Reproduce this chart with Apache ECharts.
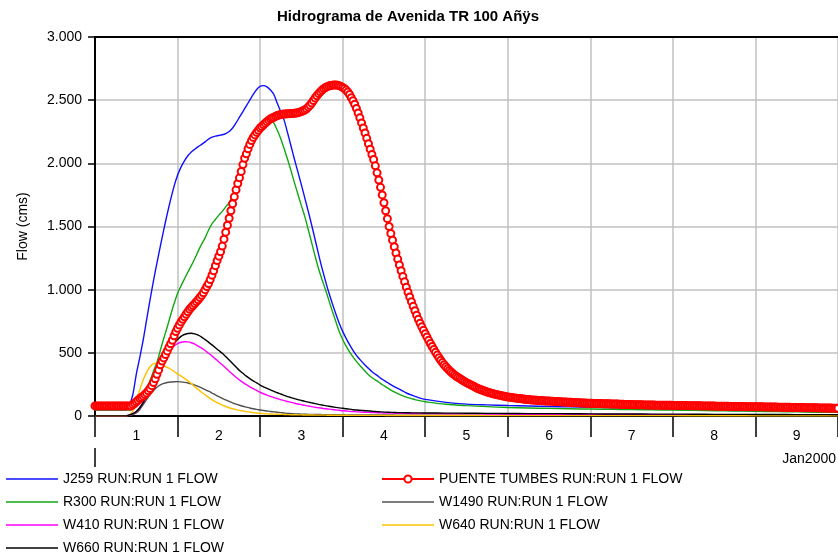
<!DOCTYPE html>
<html>
<head>
<meta charset="utf-8">
<script src="https://cdn.jsdelivr.net/npm/echarts@6/dist/echarts.min.js"></script>
<style>
  html, body { margin: 0; padding: 0; background: #fff; }
  #chart { width: 838px; height: 559px; }
</style>
</head>
<body>
<div id="chart"></div>
<script>
// Day labels along the bottom (January 2000)
const dayLabels = ['1', '2', '3', '4', '5', '6', '7', '8', '9'];
const yMin = 0, yMax = 3000, yStep = 500;

// Sample times (hours from 1 Jan 00:00) shared by the plain-line series:
// hourly through hour 96, then every 6 hours to hour 216.
const lineHours = [];
for (let h = 0; h <= 96; h++) lineHours.push(h);
for (let h = 102; h <= 216; h += 6) lineHours.push(h);

// Flow (cms) per station on lineHours
const j259 = [
  50,50,50,50,50,50,50,50,50,50,
  85,170,330,460,600,760,920,1070,1210,1345,
  1475,1600,1715,1820,1905,1970,2020,2060,2090,2112,
  2132,2150,2170,2192,2208,2215,2220,2226,2236,2252,
  2280,2320,2365,2410,2455,2500,2545,2585,2610,2615,
  2605,2580,2545,2475,2410,2340,2240,2135,2030,1930,
  1830,1725,1620,1510,1395,1280,1170,1070,975,890,
  810,735,670,615,565,520,480,448,418,390,
  365,340,322,300,282,265,248,232,218,205,
  190,176,166,156,146,138,132,
  108,94,88,83,79,75,72,69,65,61,57,53,50,47,44,42,39,37,35,33
];
const r300 = [
  47,47,47,47,47,47,47,47,47,47,
  47,50,75,105,160,215,280,355,425,520,
  615,705,800,890,970,1030,1085,1140,1190,1245,
  1305,1360,1410,1470,1520,1555,1590,1620,1655,1690,
  1745,1810,1880,1960,2045,2130,2200,2265,2310,2345,
  2362,2352,2318,2262,2195,2115,2030,1940,1845,1755,
  1665,1578,1475,1370,1265,1165,1080,1000,915,830,
  748,668,605,553,508,468,432,400,370,340,
  315,295,278,258,240,222,205,190,177,165,
  154,145,138,130,124,118,113,
  93,82,74,67,63,60,57,55,53,51,49,47,45,42,40,37,35,33,30,29
];
const w1490 = [
  1,1,1,1,1,1,1,1,1,1,
  5,12,25,50,90,130,168,200,228,247,
  258,265,269,271,272,270,266,261,254,245,
  234,222,209,196,182,167,153,140,127,115,
  104,94,85,77,70,63,57,52,48,44,
  40,36,33,30,27,24,21,19,17,16,
  15,14,13,13,12,12,11,11,11,10,
  10,10,10,9,9,9,9,9,9,8,
  8,8,8,8,8,8,8,7,7,7,
  7,7,7,7,7,7,7,
  7,6,6,6,6,6,6,5,5,5,5,5,5,5,4,4,4,4,4,4
];
const w410 = [
  1,1,1,1,1,1,1,1,1,1,
  8,18,36,65,105,155,210,280,345,400,
  450,490,525,555,573,584,588,587,580,568,
  553,537,518,497,476,452,428,405,380,355,
  330,307,285,266,248,231,216,202,188,176,
  165,155,146,138,130,122,115,108,101,95,
  90,84,79,74,69,65,61,57,54,51,
  48,45,42,40,37,35,33,32,30,29,
  28,27,26,25,24,24,23,22,22,21,
  21,20,20,20,19,19,19,
  18,17,16,15,14,14,13,13,12,12,11,11,10,10,9,9,9,8,8,8
];
const w640 = [
  1,1,1,1,1,1,1,1,1,1,
  8,40,120,206,285,345,390,414,417,408,
  396,385,370,352,333,316,298,278,256,232,
  210,188,168,148,130,113,99,86,75,65,
  57,50,45,40,35,31,27,24,21,19,
  17,16,15,14,13,12,11,10,10,9,
  9,8,8,8,7,7,7,7,6,6,
  6,6,6,6,5,5,5,5,5,5,
  5,5,5,5,5,4,4,4,4,4,
  4,4,4,4,4,4,4,
  4,4,3,3,3,3,3,3,3,3,3,3,2,2,2,2,2,2,2,2
];
const w660 = [
  1,1,1,1,1,1,1,1,1,1,
  8,18,35,65,105,155,210,265,320,380,
  435,490,535,575,605,630,645,653,655,650,
  640,625,605,585,563,540,518,496,470,443,
  415,388,360,338,316,296,278,262,245,231,
  218,206,195,184,174,163,154,146,138,130,
  123,116,110,104,98,92,87,82,77,73,
  68,64,61,57,54,50,47,45,43,41,
  39,37,35,33,31,30,29,28,27,27,
  26,26,25,25,25,24,24,
  23,22,21,20,19,19,18,17,16,16,15,15,14,13,13,12,12,11,11,10
];

// PUENTE TUMBES, every half hour from 1 Jan 00:00
const puenteStepHours = 0.5;
const puenteTumbes = [
  80,80,80,80,80,80,80,80,80,80,80,80,80,80,80,80,80,80,80,80,80,80,
  90,100,112,125,138,147,157,170,183,200,218,240,265,295,330,365,405,435,460,487,
  515,545,572,600,635,668,695,720,745,765,785,805,825,845,860,875,890,905,920,938,
  955,975,1000,1025,1048,1080,1115,1150,1190,1230,1265,1300,1345,1400,1455,1510,1565,1625,1680,1735,
  1790,1840,1885,1935,1990,2040,2075,2115,2150,2180,2205,2225,2245,2262,2280,2292,2305,2318,2330,2342,
  2352,2358,2365,2372,2378,2383,2387,2389,2390,2391,2392,2393,2394,2395,2396,2398,2401,2405,2410,2416,
  2422,2432,2445,2460,2478,2497,2517,2535,2552,2566,2580,2591,2600,2607,2612,2616,2619,2620,2620,2619,
  2615,2609,2601,2592,2580,2565,2545,2520,2495,2468,2435,2398,2360,2320,2280,2240,2198,2155,2112,2070,
  2030,1980,1925,1868,1810,1750,1688,1625,1562,1500,1445,1392,1340,1290,1242,1195,1150,1105,1062,1020,
  980,942,905,868,833,798,765,735,706,678,651,625,599,574,550,527,504,482,461,441,
  423,406,390,375,361,348,336,325,315,306,298,289,280,272,264,257,250,243,236,229,
  222,216,210,205,200,195,190,186,182,178,174,171,168,165,162,159,156,153,151,149,
  147,145,143,141,139,138,136,134,133,131,130,128,127,126,125,124,123,122,121,120,
  119,118,118,117,116,115,114,114,113,112,111,111,110,109,108,108,107,106,105,105,
  104,103,103,102,101,101,100,
  100,99,99,99,98,98,97,97,97,96,96,95,95,95,94,94,93,93,93,92,
  92,91,91,91,90,90,90,89,89,89,88,88,88,87,87,87,87,86,86,86,
  86,85,85,85,85,85,85,84,84,
  84,84,84,83,83,83,83,82,82,82,82,81,81,81,81,80,80,80,80,79,
  79,79,79,78,78,78,78,77,77,77,77,76,76,76,76,75,75,75,75,75,
  74,74,74,74,74,74,73,73,
  73,73,73,72,72,72,72,71,71,71,71,70,70,70,70,69,69,69,69,68,
  68,68,68,67,67,67,67,66,66,66,66,65,65,65,65,64,64,64,64,63,
  63,63,63,62,62,62,62
];

const FONT = '"Liberation Sans", Arial, sans-serif';
const GRID_COLOR = '#c0c0c0';
// Legend swatch for plain lines: a thin horizontal bar
const LINE_ICON = 'path://M0,0H52V1.5H0Z';

function onLineHours(values) {
  return values.map((v, i) => [lineHours[i], v]);
}
function thousands(v) {
  if (v < 1000) return String(v);
  return Math.floor(v / 1000) + '.' + String(v % 1000).padStart(3, '0');
}
function plainLine(name, values, color) {
  return {
    name, type: 'line', xAxisIndex: 0, data: onLineHours(values),
    symbol: 'none', smooth: 0.3, lineStyle: { color, width: 1.4 }, itemStyle: { color }
  };
}

const chart = echarts.init(document.getElementById('chart'), null, { renderer: 'canvas' });

const textStyle = { fontFamily: FONT, fontSize: 14, color: '#000' };
const legendCommon = {
  orient: 'vertical', top: 472, padding: 0,
  itemWidth: 52, itemHeight: 9, itemGap: 9,
  textStyle, selectedMode: false
};

chart.setOption({
  animation: false,
  backgroundColor: '#fff',
  title: {
    text: 'Hidrograma de Avenida TR 100 Añÿs',
    left: 277, top: 9, padding: 0,
    textStyle: { fontFamily: FONT, fontSize: 15, fontWeight: 'bold', color: '#000' }
  },
  grid: { left: 95, right: -7, top: 37, bottom: 143 },
  xAxis: [
    {
      type: 'value', min: 0, max: 216, interval: 24, position: 'bottom',
      axisLine: { show: true, onZero: false, lineStyle: { color: '#000', width: 2 } },
      axisTick: { show: false }, axisLabel: { show: false },
      splitLine: { show: true, lineStyle: { color: GRID_COLOR, width: 1.5 } }
    },
    {
      type: 'category', data: dayLabels, position: 'bottom', boundaryGap: true,
      axisLine: { show: false },
      axisTick: { show: true, interval: 0, length: 21, lineStyle: { color: '#000', width: 1.5 } },
      axisLabel: Object.assign({ margin: 13, interval: 0 }, textStyle),
      splitLine: { show: false }
    },
    {
      type: 'value', min: 0, max: 216, position: 'top',
      axisLine: { show: true, onZero: false, lineStyle: { color: '#000', width: 2 } },
      axisTick: { show: false }, axisLabel: { show: false }, splitLine: { show: false }
    }
  ],
  yAxis: {
    type: 'value', min: yMin, max: yMax, interval: yStep,
    name: 'Flow (cms)', nameLocation: 'middle', nameGap: 65,
    nameTextStyle: textStyle,
    axisLine: { show: true, lineStyle: { color: '#000', width: 2 } },
    axisTick: { show: true, length: 7, lineStyle: { color: '#000', width: 1.5 } },
    axisLabel: Object.assign({ margin: 13, formatter: thousands }, textStyle),
    splitLine: { show: true, lineStyle: { color: GRID_COLOR, width: 1.5 } }
  },
  legend: [
    Object.assign({
      left: 6,
      data: [
        { name: 'J259 RUN:RUN 1 FLOW', icon: LINE_ICON },
        { name: 'R300 RUN:RUN 1 FLOW', icon: LINE_ICON },
        { name: 'W410 RUN:RUN 1 FLOW', icon: LINE_ICON },
        { name: 'W660 RUN:RUN 1 FLOW', icon: LINE_ICON }
      ]
    }, legendCommon),
    Object.assign({
      left: 381,
      data: [
        { name: 'PUENTE TUMBES RUN:RUN 1 FLOW' },
        { name: 'W1490 RUN:RUN 1 FLOW', icon: LINE_ICON },
        { name: 'W640 RUN:RUN 1 FLOW', icon: LINE_ICON }
      ]
    }, legendCommon)
  ],
  series: [
    plainLine('J259 RUN:RUN 1 FLOW', j259, '#1010ff'),
    {
      name: 'PUENTE TUMBES RUN:RUN 1 FLOW', type: 'line', xAxisIndex: 0,
      data: puenteTumbes.map((v, i) => [i * puenteStepHours, v]),
      symbol: 'emptyCircle', symbolSize: 7, showSymbol: true,
      lineStyle: { color: '#ff0000', width: 1.2 },
      itemStyle: { color: '#ff0000', borderColor: '#ff0000', borderWidth: 1.5 }
    },
    plainLine('R300 RUN:RUN 1 FLOW', r300, '#12a812'),
    plainLine('W1490 RUN:RUN 1 FLOW', w1490, '#505050'),
    plainLine('W410 RUN:RUN 1 FLOW', w410, '#ff00ff'),
    plainLine('W640 RUN:RUN 1 FLOW', w640, '#ffc000'),
    plainLine('W660 RUN:RUN 1 FLOW', w660, '#000000')
  ]
});

// Month caption and the divider tick under the first day
const x0 = chart.convertToPixel({ xAxisIndex: 0 }, 0);
const yBase = chart.convertToPixel({ yAxisIndex: 0 }, 0);
chart.setOption({
  graphic: [
    {
      type: 'line', shape: { x1: x0, y1: yBase + 32, x2: x0, y2: yBase + 51 },
      style: { stroke: '#000', lineWidth: 1.5 }
    },
    {
      type: 'text', right: 2, top: yBase + 36,
      style: { text: 'Jan2000', font: '14px ' + FONT, fill: '#000' }
    }
  ]
});
</script>
</body>
</html>
